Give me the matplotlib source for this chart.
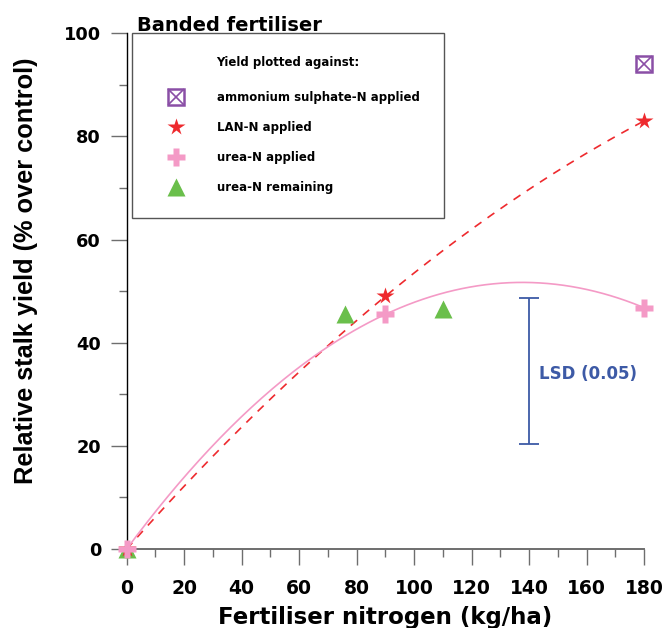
import numpy as np
import matplotlib
matplotlib.use('Agg')
import matplotlib.pyplot as plt

plt.rcParams['font.family'] = ['DejaVu Sans']
plt.rcParams['font.weight'] = 'bold'

# Datos
n_aplicado = [0, 90, 180]
lan_n = [0, 49, 83]
urea_aplicada = [0, 45.5, 46.8]
sulfato_x = [180]
sulfato_y = [94]
urea_restante_x = [0, 76, 110]
urea_restante_y = [0, 45.5, 46.5]
lsd_x = 140
lsd_bajo, lsd_alto = 20.3, 48.6
xticks = list(range(0, 181, 20))
yticks = list(range(0, 101, 20))

morado = '#8a4fa6'
rojo = '#ee2a2e'
rosa = '#f49ac6'
verde = '#6abf4b'
azul = '#3d5aa6'
gris = '#6e6e6e'

W, H = 664, 628
fig = plt.figure(figsize=(W / 100, H / 100), dpi=100)
ax = fig.add_axes([126.7 / W, 1 - 549 / H, (644 - 126.7) / W, (549 - 33.3) / H])

# Curvas de ajuste cuadrático
xs = np.linspace(0, 180, 200)
c_lan = np.polyfit(n_aplicado, lan_n, 2)
c_urea = np.polyfit(n_aplicado, urea_aplicada, 2)
ax.plot(xs, np.polyval(c_lan, xs), color=rojo, lw=1.2, ls=(0, (5, 4.5)), zorder=2)
ax.plot(xs, np.polyval(c_urea, xs), color=rosa, lw=1.2, zorder=2)

# Puntos
tri, = ax.plot(urea_restante_x, urea_restante_y, '^', color=verde, ms=12.5, mec='none',
               clip_on=False, zorder=3)
est, = ax.plot(n_aplicado, lan_n, '*', color=rojo, ms=13, mec='none', clip_on=False, zorder=4)
mas, = ax.plot(n_aplicado, urea_aplicada, 'P', color=rosa, ms=13, mec='none', clip_on=False, zorder=5)
cuad, = ax.plot(sulfato_x, sulfato_y, 's', mfc='white', mec=morado, mew=1.8, ms=11.5,
                clip_on=False, zorder=4)
cruz, = ax.plot(sulfato_x, sulfato_y, 'x', color=morado, mew=1.2, ms=11.5, clip_on=False, zorder=5)

# Barra LSD
ax.errorbar([lsd_x], [(lsd_alto + lsd_bajo) / 2], yerr=[(lsd_alto - lsd_bajo) / 2],
            fmt='none', ecolor=azul, elinewidth=1.3, capsize=7.5, capthick=1.3, zorder=3)
ax.text(143.5, 33.9, 'LSD (0.05)', color=azul, fontsize=12, weight='bold', va='center', ha='left')

# Ejes
ax.set_xlim(0, 180)
ax.set_ylim(0, 100)
ax.spines['top'].set_visible(False)
ax.spines['right'].set_visible(False)
ax.spines['left'].set_color('black')
ax.spines['bottom'].set_color(gris)
ax.spines['left'].set_linewidth(1.0)
ax.spines['bottom'].set_linewidth(1.4)
ax.set_xticks(xticks)
ax.set_xticks(list(range(10, 180, 20)), minor=True)
ax.set_yticks(yticks)
ax.set_yticks(list(range(10, 100, 20)), minor=True)
ax.tick_params(which='major', length=11.5, width=1.0, color=gris, labelsize=13.5, direction='out')
ax.tick_params(which='minor', length=5.8, width=1.0, color=gris, direction='out')
ax.tick_params(axis='x', pad=10)
ax.tick_params(axis='y', pad=7, labelsize=12.8)

ax.set_xlabel('Fertiliser nitrogen (kg/ha)', fontsize=16.5, weight='bold', labelpad=6)
ax.set_ylabel('Relative stalk yield (% over control)', fontsize=18.3, weight='bold',
              family='Liberation Sans')
ax.yaxis.set_label_coords(-0.172, 0.539)

# Leyenda
leg = ax.legend([(cuad, cruz), est, mas, tri],
                ['ammonium sulphate-N applied', 'LAN-N applied', 'urea-N applied', 'urea-N remaining'],
                title='Yield plotted against:', loc='upper left',
                bbox_to_anchor=(131.7 / W, 1 - 32.5 / H), bbox_transform=fig.transFigure,
                borderaxespad=0, fancybox=False, framealpha=1, edgecolor='#555555',
                prop={'weight': 'bold', 'size': 8.5},
                title_fontproperties={'weight': 'bold', 'size': 8.5},
                borderpad=2.0, labelspacing=1.45, handlelength=3.56, handletextpad=1.7,
                numpoints=1)
leg.get_frame().set_linewidth(1.0)
# un poco más de aire entre el título y las entradas
leg._legend_box.sep = 8.5 * 1.45 + 3.5

fig.text(137 / W, 1 - 31 / H, 'Banded fertiliser', fontsize=14, weight='bold', va='baseline')

fig.savefig('out.png', dpi=100)
